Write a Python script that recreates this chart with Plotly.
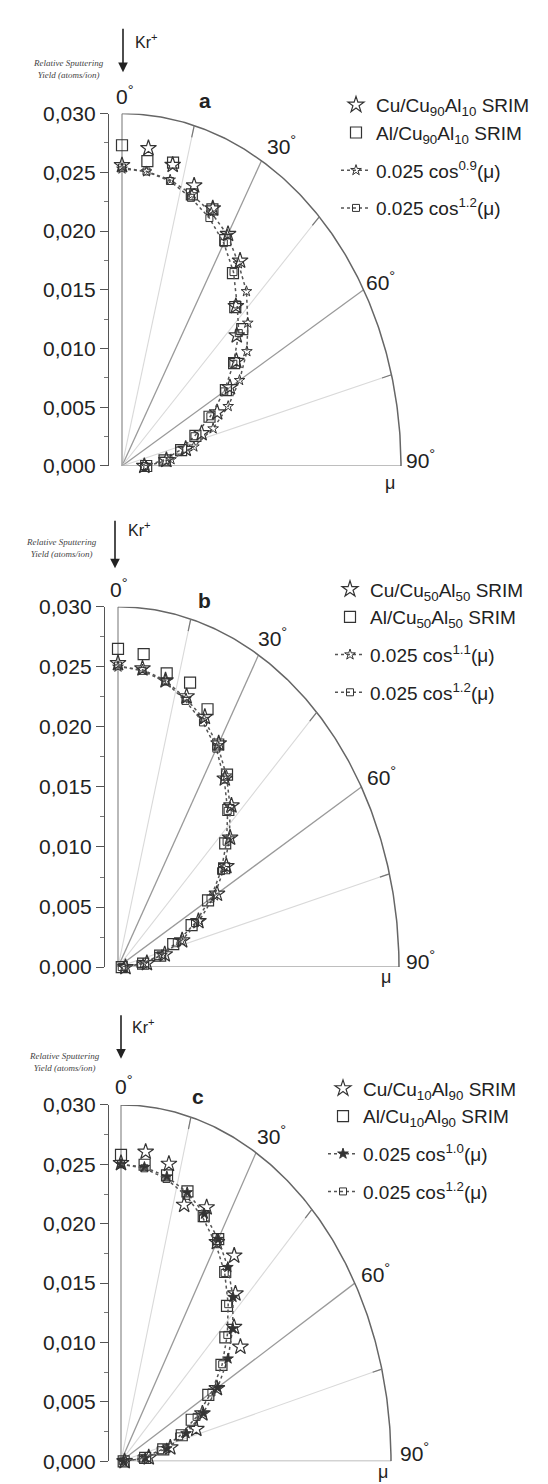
import numpy as np
import plotly.graph_objects as go

W, H = 548, 1484
RMAX = 0.030

# ---------------- data ----------------
ANGLES = [0, 6, 12, 18, 24, 30, 36, 42, 48, 54, 60, 66, 72, 78, 84, 90]

cu_srim_a = [0.0256, 0.0272, 0.0262, 0.0251, 0.0240, 0.0228, 0.0216, 0.0183, 0.0166, 0.0152, 0.0134, 0.0112, 0.0090, 0.0070, 0.0048, 0.0024]
al_srim_a = [0.0273, 0.0261, 0.0264, 0.0243, 0.0239, 0.0222, 0.0203, 0.0182, 0.0174, 0.0149, 0.0129, 0.0103, 0.0083, 0.0065, 0.0046, 0.0026]
fit_cu_a = [0.0253, 0.0252, 0.0249, 0.0243, 0.0236, 0.0227, 0.0213, 0.0200, 0.0182, 0.0166, 0.0146, 0.0125, 0.0103, 0.0079, 0.0053, 0.0026]
fit_al_a = [0.0254, 0.0252, 0.0248, 0.0240, 0.0231, 0.0219, 0.0204, 0.0185, 0.0169, 0.0148, 0.0127, 0.0104, 0.0082, 0.0063, 0.0044, 0.0024]

cu_srim_b = [0.0253, 0.0250, 0.0244, 0.0237, 0.0228, 0.0215, 0.0194, 0.0181, 0.0161, 0.0143, 0.0122, 0.0094, 0.0072, 0.0051, 0.0031, 0.0008]
al_srim_b = [0.0265, 0.0262, 0.0250, 0.0249, 0.0235, 0.0214, 0.0198, 0.0176, 0.0154, 0.0140, 0.0111, 0.0086, 0.0062, 0.0046, 0.0027, 0.0004]
fit_cu_b = [0.0250, 0.0249, 0.0244, 0.0235, 0.0226, 0.0213, 0.0197, 0.0179, 0.0160, 0.0140, 0.0119, 0.0095, 0.0071, 0.0048, 0.0027, 0.0006]
fit_al_b = [0.0251, 0.0248, 0.0243, 0.0233, 0.0223, 0.0210, 0.0193, 0.0175, 0.0156, 0.0136, 0.0114, 0.0090, 0.0066, 0.0044, 0.0024, 0.0004]

cu_srim_c = [0.0251, 0.0262, 0.0256, 0.0227, 0.0234, 0.0213, 0.0214, 0.0190, 0.0169, 0.0164, 0.0123, 0.0099, 0.0088, 0.0056, 0.0031, 0.0004]
al_srim_c = [0.0258, 0.0251, 0.0246, 0.0239, 0.0226, 0.0216, 0.0197, 0.0176, 0.0156, 0.0138, 0.0112, 0.0086, 0.0071, 0.0048, 0.0027, 0.0003]
fit_cu_c = [0.0250, 0.0249, 0.0245, 0.0238, 0.0228, 0.0216, 0.0202, 0.0186, 0.0167, 0.0147, 0.0124, 0.0100, 0.0076, 0.0052, 0.0027, 0.0003]
fit_al_c = [0.0250, 0.0248, 0.0243, 0.0235, 0.0224, 0.0211, 0.0196, 0.0178, 0.0159, 0.0139, 0.0116, 0.0092, 0.0068, 0.0045, 0.0023, 0.0002]

labels_a = ["Cu/Cu<sub>90</sub>Al<sub>10</sub> SRIM", "Al/Cu<sub>90</sub>Al<sub>10</sub> SRIM",
            "0.025 cos<sup>0.9</sup>(μ)", "0.025 cos<sup>1.2</sup>(μ)"]
labels_b = ["Cu/Cu<sub>50</sub>Al<sub>50</sub> SRIM", "Al/Cu<sub>50</sub>Al<sub>50</sub> SRIM",
            "0.025 cos<sup>1.1</sup>(μ)", "0.025 cos<sup>1.2</sup>(μ)"]
labels_c = ["Cu/Cu<sub>10</sub>Al<sub>90</sub> SRIM", "Al/Cu<sub>10</sub>Al<sub>90</sub> SRIM",
            "0.025 cos<sup>1.0</sup>(μ)", "0.025 cos<sup>1.2</sup>(μ)"]

PANEL_LETTERS = ["a", "b", "c"]
RADIAL_TICKS = [0.000, 0.005, 0.010, 0.015, 0.020, 0.025, 0.030]
GRID_ANGLES = [15, 30, 45, 60, 75]
MAJOR_GRID = [30, 60]
ANGLE_LABELS = ["0", "30", "60", "90"]
LEGEND_GROUPS = ["srim", "srim", "fit1", "fit2"]

# ---------------- layout geometry (pixels) ----------------
panels = [
    dict(ox=114, oy=453, ty=95, ex=393, ax=100,
         kr=(115, 8, 53), krtxt=(125, 21), rsy=(60, 50), letter=(197, 82),
         lab=[(117, 76), (273, 127), (372, 265), (412, 446)], mu=(382, 470),
         leg=(328, 67), cu_fit_marker="star-open"),
    dict(ox=110, oy=962, ty=596, ex=391, ax=96,
         kr=(107, 508, 557), krtxt=(118, 517), rsy=(53, 536), letter=(196, 590),
         lab=[(111, 577), (264, 627), (373, 768), (412, 955)], mu=(378, 972),
         leg=(322, 559), cu_fit_marker="star-open"),
    dict(ox=113, oy=1464, ty=1102, ex=383, ax=100,
         kr=(113, 1010, 1055), krtxt=(122, 1022), rsy=(56, 1058), letter=(190, 1093),
         lab=[(116, 1082), (263, 1133), (367, 1273), (406, 1455)], mu=(375, 1475),
         leg=(315, 1066), cu_fit_marker="star"),
]
series = [
    (cu_srim_a, al_srim_a, fit_cu_a, fit_al_a, labels_a),
    (cu_srim_b, al_srim_b, fit_cu_b, fit_al_b, labels_b),
    (cu_srim_c, al_srim_c, fit_cu_c, fit_al_c, labels_c),
]

DARK = "#333333"
FONT = "Liberation Sans"


def to_xy(r, deg):
    t = np.radians(np.asarray(deg, dtype=float))
    r = np.asarray(r, dtype=float)
    return r * np.sin(t), r * np.cos(t)


def px(x, y):
    return x / W, 1 - y / H


fig = go.Figure()
layout = dict(width=W, height=H, margin=dict(l=0, r=0, t=0, b=0),
              paper_bgcolor="white", plot_bgcolor="rgba(0,0,0,0)",
              separators=",.", showlegend=True, font=dict(family=FONT, color="#222"))
annotations = []


def note(x, y, text, size, **kw):
    ax_, ay_ = px(x, y)
    d = dict(x=ax_, y=ay_, xref="paper", yref="paper", showarrow=False, text=text,
             xanchor="center", yanchor="middle", font=dict(size=size, family=FONT, color="#222"))
    d.update(kw)
    annotations.append(d)


for i, (p, (cu, al, fcu, fal, labs)) in enumerate(zip(panels, series)):
    sfx = "" if i == 0 else str(i + 1)
    xa, ya = "x" + sfx, "y" + sfx
    leg = "legend" + sfx
    sx = (p["ex"] - p["ox"]) / RMAX
    layout["xaxis" + sfx] = dict(domain=[0, 1], range=[-p["ox"] / sx, (W - p["ox"]) / sx],
                                 visible=False, anchor=ya, fixedrange=True)
    layout["yaxis" + sfx] = dict(
        domain=[1 - p["oy"] / H, 1 - p["ty"] / H], range=[0, RMAX], anchor="free",
        position=p["ax"] / W, showline=True, linecolor="#555", linewidth=1.3,
        ticks="outside", ticklen=8, tickwidth=1.3, tickcolor="#555",
        tickvals=RADIAL_TICKS, tickformat=".3f", showgrid=False, zeroline=False,
        minor=dict(ticks="outside", ticklen=4, dtick=0.0025, tickcolor="#777", tickwidth=1),
        tickfont=dict(size=21, family=FONT, color="#222"), fixedrange=True)

    common = dict(xaxis=xa, yaxis=ya, showlegend=False, hoverinfo="skip", cliponaxis=False)
    for g in GRID_ANGLES:
        gx, gy = to_xy([0, RMAX], [g, g])
        major = g in MAJOR_GRID
        fig.add_trace(go.Scatter(x=gx, y=gy, mode="lines",
                                 line=dict(color="#9a9a9a" if major else "#d9d9d9",
                                           width=1.3 if major else 1.1), **common))
    for g in (0, 90):
        gx, gy = to_xy([0, RMAX], [g, g])
        fig.add_trace(go.Scatter(x=gx, y=gy, mode="lines",
                                 line=dict(color="#a8a8a8", width=1.6), **common))
    arc_deg = np.linspace(0, 90, 181)
    axx, ayy = to_xy(np.full(arc_deg.shape, RMAX), arc_deg)
    fig.add_trace(go.Scatter(x=axx, y=ayy, mode="lines", line=dict(color="#666", width=1.5), **common))
    for g in (15, 45, 75):
        tx, ty = to_xy([RMAX * 0.965, RMAX], [g, g])
        fig.add_trace(go.Scatter(x=tx, y=ty, mode="lines", line=dict(color="#777", width=1.2), **common))

    dcommon = dict(xaxis=xa, yaxis=ya, legend=leg, cliponaxis=False, hoverinfo="skip")
    x1, y1 = to_xy(cu, ANGLES)
    fig.add_trace(go.Scatter(x=x1, y=y1, mode="markers", name=labs[0], legendgroup=LEGEND_GROUPS[0] + sfx,
                             marker=dict(symbol="star-open", size=12, color=DARK, line=dict(width=1.2, color=DARK)),
                             **dcommon))
    x2, y2 = to_xy(al, ANGLES)
    fig.add_trace(go.Scatter(x=x2, y=y2, mode="markers", name=labs[1], legendgroup=LEGEND_GROUPS[1] + sfx,
                             marker=dict(symbol="square-open", size=11, color=DARK, line=dict(width=1.2, color=DARK)),
                             **dcommon))
    x3, y3 = to_xy(fcu, ANGLES)
    fig.add_trace(go.Scatter(x=x3, y=y3, mode="lines+markers", name=labs[2], legendgroup=LEGEND_GROUPS[2] + sfx,
                             line=dict(color="#555", width=1.5, dash="dot"),
                             marker=dict(symbol=p["cu_fit_marker"], size=8, color=DARK, line=dict(width=1, color=DARK)),
                             **dcommon))
    x4, y4 = to_xy(fal, ANGLES)
    fig.add_trace(go.Scatter(x=x4, y=y4, mode="lines+markers", name=labs[3], legendgroup=LEGEND_GROUPS[3] + sfx,
                             line=dict(color="#555", width=1.5, dash="dot"),
                             marker=dict(symbol="square-open", size=7, color=DARK, line=dict(width=1, color=DARK)),
                             **dcommon))

    lx, ly = px(*p["leg"])
    layout[leg] = dict(x=lx, y=ly, xanchor="left", yanchor="top", bgcolor="rgba(0,0,0,0)",
                       font=dict(size=19, family=FONT, color="#222"), tracegroupgap=10,
                       itemsizing="trace", itemwidth=30, itemclick=False, itemdoubleclick=False)

    for (lxp, lyp), txt in zip(p["lab"], ANGLE_LABELS):
        note(lxp, lyp, f"{txt}<sup>°</sup>", 21)
    note(*p["mu"], "μ", 18)
    note(*p["letter"], f"<b>{PANEL_LETTERS[i]}</b>", 21)
    kx, ky0, ky1 = p["kr"]
    ex_, ey_ = px(kx, ky1)
    annotations.append(dict(x=ex_, y=ey_, xref="paper", yref="paper", text="", showarrow=True,
                            ax=0, ay=-(ky1 - ky0), arrowhead=2, arrowsize=1.2, arrowwidth=1.6,
                            arrowcolor="#222"))
    note(*p["krtxt"], "Kr<sup>+</sup>", 16, xanchor="left")
    note(*p["rsy"], "<i>Relative Sputtering</i><br><i>Yield (atoms/ion)</i>", 9,
         font=dict(size=9, family="Liberation Serif", color="#444"))

layout["annotations"] = annotations
fig.update_layout(**layout)
fig.write_html("out.html")
